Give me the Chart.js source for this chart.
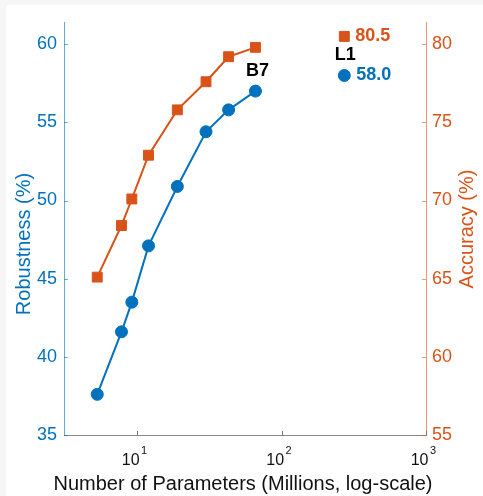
<!DOCTYPE html>
<html lang="en">
<head>
  <meta charset="UTF-8" />
  <title>Robustness / Accuracy vs Parameters</title>
  <script src="https://cdn.jsdelivr.net/npm/chart.js"></script>
  <style>
    body {
      margin: 0;
      background: #f6f6f6;
      width: 483px;
      height: 496px;
      overflow: hidden;
    }
    .panel {
      position: absolute;
      left: 6px;
      top: 5px;
      width: 477px;
      height: 491px;
      background: #fff;
    }
  </style>
</head>
<body>
  <div class="panel"><canvas id="chart"></canvas></div>

  <script>
    // EfficientNet B0..B7
    const params = [5.3, 7.8, 9.2, 12, 19, 30, 43, 66];
    const robustness = [37.6, 41.6, 43.5, 47.1, 50.9, 54.4, 55.8, 57.0];
    const accuracy = [65.1, 68.4, 70.1, 72.9, 75.8, 77.6, 79.2, 79.8];
    // L1 model
    const l1Params = 272;
    const l1Robustness = 58.0;
    const l1Accuracy = 80.5;

    const leftTicks = [35, 40, 45, 50, 55, 60];
    const rightTicks = [55, 60, 65, 70, 75, 80];
    const xTicks = [10, 100, 1000];

    const BLUE = '#0072BD';
    const ORANGE = '#D95319';
    const FONT = '"Liberation Sans", Arial, sans-serif';

    const pts = (xs, ys) => xs.map((x, i) => ({ x: x, y: ys[i] }));

    // inward tick marks, 10^n labels, axis titles and point labels
    const extras = {
      id: 'extras',
      afterDatasetsDraw(chart) {
        const { ctx, chartArea: a, scales } = chart;
        ctx.save();
        ctx.lineWidth = 1;
        ctx.strokeStyle = 'rgba(0,114,189,0.6)';
        leftTicks.forEach(v => {
          const y = Math.round(scales.y.getPixelForValue(v)) + 0.5;
          ctx.beginPath(); ctx.moveTo(a.left, y); ctx.lineTo(a.left + 4, y); ctx.stroke();
        });
        ctx.strokeStyle = 'rgba(217,83,25,0.6)';
        rightTicks.forEach(v => {
          const y = Math.round(scales.y1.getPixelForValue(v)) + 0.5;
          ctx.beginPath(); ctx.moveTo(a.right, y); ctx.lineTo(a.right - 4, y); ctx.stroke();
        });
        ctx.strokeStyle = '#777';
        xTicks.forEach(v => {
          const x = Math.round(scales.x.getPixelForValue(v)) + 0.5;
          ctx.beginPath(); ctx.moveTo(x, a.bottom); ctx.lineTo(x, a.bottom - 4); ctx.stroke();
        });

        // x tick labels as 10 with raised exponent
        ctx.fillStyle = '#111';
        ctx.textBaseline = 'alphabetic';
        xTicks.forEach(v => {
          const x = scales.x.getPixelForValue(v);
          ctx.font = '16px ' + FONT;
          ctx.textAlign = 'right';
          ctx.fillText('10', x + 2.5, a.bottom + 30);
          ctx.font = '11px ' + FONT;
          ctx.textAlign = 'left';
          ctx.fillText(String(Math.round(Math.log10(v))), x + 4, a.bottom + 18.5);
        });

        // axis titles
        ctx.font = '20px ' + FONT;
        ctx.textAlign = 'center';
        ctx.textBaseline = 'middle';
        ctx.fillStyle = '#111';
        ctx.fillText('Number of Parameters (Millions, log-scale)', 237, 479);
        ctx.save();
        ctx.translate(18, 239);
        ctx.rotate(-Math.PI / 2);
        ctx.fillStyle = BLUE;
        ctx.fillText('Robustness (%)', 0, 0);
        ctx.restore();
        ctx.save();
        ctx.translate(461, 224);
        ctx.rotate(-Math.PI / 2);
        ctx.fillStyle = ORANGE;
        ctx.fillText('Accuracy (%)', 0, 0);
        ctx.restore();

        // point labels
        ctx.font = 'bold 18px ' + FONT;
        const b7x = scales.x.getPixelForValue(params[params.length - 1]);
        const b7y = scales.y.getPixelForValue(robustness[robustness.length - 1]);
        ctx.fillStyle = '#000';
        ctx.fillText('B7', b7x + 2, b7y - 20);
        const lx = scales.x.getPixelForValue(l1Params);
        const ly = scales.y.getPixelForValue(l1Robustness);
        const la = scales.y1.getPixelForValue(l1Accuracy);
        ctx.fillText('L1', lx + 1, (ly + la) / 2 - 1);
        ctx.textAlign = 'left';
        ctx.fillStyle = ORANGE;
        ctx.fillText(l1Accuracy.toFixed(1), lx + 11, la);
        ctx.fillStyle = BLUE;
        ctx.fillText(l1Robustness.toFixed(1), lx + 12, ly);
        ctx.restore();
      }
    };

    new Chart(document.getElementById('chart'), {
      type: 'line',
      data: {
        datasets: [
          {
            label: 'Robustness',
            data: pts(params, robustness),
            yAxisID: 'y',
            borderColor: BLUE,
            backgroundColor: BLUE,
            borderWidth: 2,
            pointStyle: 'circle',
            pointRadius: 6,
            pointBorderWidth: 1
          },
          {
            label: 'Accuracy',
            data: pts(params, accuracy),
            yAxisID: 'y1',
            borderColor: ORANGE,
            backgroundColor: ORANGE,
            borderWidth: 2,
            pointStyle: 'rect',
            pointRadius: 7,
            pointBorderWidth: 1
          },
          {
            label: 'L1 Robustness',
            data: [{ x: l1Params, y: l1Robustness }],
            yAxisID: 'y',
            showLine: false,
            borderColor: BLUE,
            backgroundColor: BLUE,
            pointStyle: 'circle',
            pointRadius: 6,
            pointBorderWidth: 1
          },
          {
            label: 'L1 Accuracy',
            data: [{ x: l1Params, y: l1Accuracy }],
            yAxisID: 'y1',
            showLine: false,
            borderColor: ORANGE,
            backgroundColor: ORANGE,
            pointStyle: 'rect',
            pointRadius: 7,
            pointBorderWidth: 1
          }
        ]
      },
      options: {
        responsive: true,
        maintainAspectRatio: false,
        animation: false,
        layout: { padding: { top: 16, left: 0, right: 0, bottom: 0 } },
        plugins: { legend: { display: false }, tooltip: { enabled: false } },
        scales: {
          x: {
            type: 'logarithmic',
            min: 3.12,
            max: 1000,
            grid: { display: false, drawTicks: false },
            border: { display: true, color: '#888', width: 1 },
            afterBuildTicks: s => { s.ticks = xTicks.map(v => ({ value: v })); },
            afterFit: s => { s.height = 61; },
            ticks: { display: false }
          },
          y: {
            position: 'left',
            min: 35,
            max: 61.37,
            grid: { display: false, drawTicks: false },
            border: { display: true, color: 'rgba(0,114,189,0.6)', width: 1 },
            afterBuildTicks: s => { s.ticks = leftTicks.map(v => ({ value: v })); },
            afterFit: s => { s.width = 58; },
            ticks: { color: BLUE, padding: 7, font: { family: FONT, size: 18 } }
          },
          y1: {
            position: 'right',
            min: 55,
            max: 81.37,
            grid: { display: false, drawTicks: false },
            border: { display: true, color: 'rgba(217,83,25,0.6)', width: 1 },
            afterBuildTicks: s => { s.ticks = rightTicks.map(v => ({ value: v })); },
            afterFit: s => { s.width = 57; },
            ticks: { color: ORANGE, padding: 6, font: { family: FONT, size: 18 } }
          }
        }
      },
      plugins: [extras]
    });
  </script>
</body>
</html>
